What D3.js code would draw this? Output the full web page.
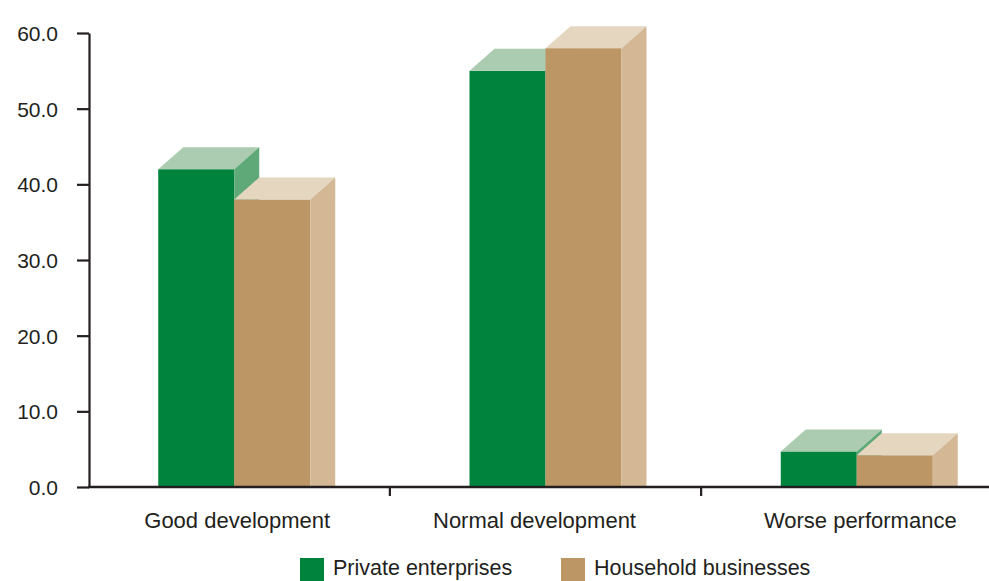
<!DOCTYPE html>
<html><head><meta charset="utf-8">
<script src="https://cdn.jsdelivr.net/npm/d3@7"></script>
<style>body{margin:0;background:#fff}svg{display:block}text{font-family:"Liberation Sans",Arial,Helvetica,sans-serif;fill:#231F20}</style>
</head><body>
<script>
const categories = ["Good development", "Normal development", "Worse performance"];
const seriesNames = ["Private enterprises", "Household businesses"];
const privateEnterprises = [42.0, 55.0, 4.7];
const householdBusinesses = [38.0, 58.0, 4.2];
const yTicks = [0, 10, 20, 30, 40, 50, 60];

const W = 989, H = 581;
const svg = d3.select("body").append("svg").attr("width", W).attr("height", H);

const y = d3.scaleLinear().domain([0, 60]).range([487, 33]);
const x = d3.scaleBand().domain(categories).range([78.6, 1012.4]).padding(0);
const sub = d3.scaleBand().domain(seriesNames).range([0, 152]);
const dx = 25, dy = 22;

const pal = [
  {front: "#00843D", top: "#ACCCB2", side: "#5FA877"},
  {front: "#BC9665", top: "#E5D6C0", side: "#D4B895"}
];
const series = [privateEnterprises, householdBusinesses];

const g = svg.append("g");
categories.forEach((c, i) => {
  const x0 = x(c) + x.bandwidth() / 2 - 76;
  series.forEach((vals, s) => {
    const v = vals[i];
    const xl = x0 + sub(seriesNames[s]);
    const xr = xl + sub.bandwidth();
    const yt = y(v), yb = y(0);
    const col = pal[s];
    g.append("rect").attr("x", xl).attr("y", yt).attr("width", xr - xl).attr("height", yb - yt).attr("fill", col.front);
    g.append("path").attr("d", `M${xl},${yt}L${xl+dx},${yt-dy}L${xr+dx},${yt-dy}L${xr},${yt}Z`).attr("fill", col.top);
    g.append("path").attr("d", `M${xr},${yt}L${xr+dx},${yt-dy}L${xr+dx},${yb}L${xr},${yb}Z`).attr("fill", col.side);
  });
});

// Y axis
const yAxis = d3.axisLeft(y).tickValues(yTicks).tickFormat(d3.format(".1f")).tickSize(12).tickSizeOuter(0);
const ya = svg.append("g").attr("transform", "translate(89,0)").call(yAxis);
ya.select(".domain").attr("stroke", "#231F20").attr("stroke-width", 2.2);
ya.selectAll(".tick line").attr("stroke", "#231F20").attr("stroke-width", 2.2);
ya.selectAll(".tick text").attr("x", -31).attr("dy", "0.36em").style("font-size", "21px").attr("fill", "#231F20");

// X axis
svg.append("line").attr("x1", 88).attr("x2", W).attr("y1", 487).attr("y2", 487).attr("stroke", "#231F20").attr("stroke-width", 2.4);
const bounds = categories.slice(1).map(c => x(c));
svg.selectAll(".ctick").data(bounds).enter().append("line")
  .attr("x1", d => d).attr("x2", d => d).attr("y1", 487).attr("y2", 496)
  .attr("stroke", "#231F20").attr("stroke-width", 2.2);
svg.selectAll(".clabel").data(categories).enter().append("text")
  .attr("x", (d, i) => x(d) + x.bandwidth() / 2 + [3, -11, 3.5][i])
  .attr("y", 528).attr("text-anchor", "middle").style("font-size", "22px").text(d => d);

// Legend
const legX = [300, 561];
seriesNames.forEach((n, s) => {
  svg.append("rect").attr("x", legX[s]).attr("y", 558).attr("width", 24).attr("height", 24).attr("fill", pal[s].front);
  svg.append("text").attr("x", legX[s] + 33).attr("y", 575).style("font-size", "21.5px").text(n);
});
</script>
</body></html>
